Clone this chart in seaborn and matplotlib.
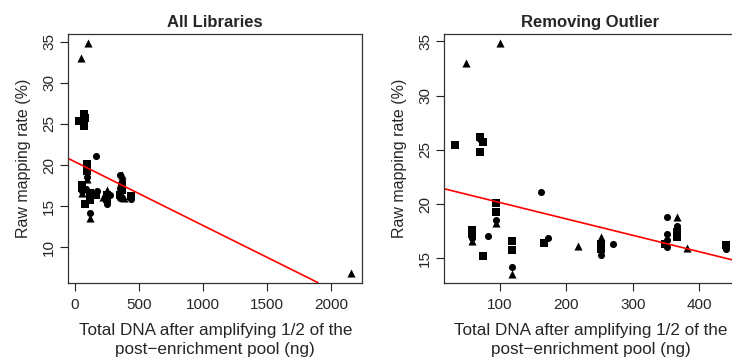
import numpy as np
import pandas as pd
import matplotlib
matplotlib.use("Agg")
import matplotlib.pyplot as plt
import seaborn as sns

# ---- data ----
sq_x = [33, 70, 75, 70, 95, 95, 58, 58, 75, 118, 118, 167, 252, 252, 348, 366, 366, 440]
sq_y = [25.4, 26.2, 25.7, 24.8, 20.1, 19.3, 17.6, 17.2, 15.2, 16.6, 15.8, 16.4, 16.3, 15.9, 16.3, 17.4, 17.0, 16.2]

ci_x = [162, 95, 83, 118, 173, 252, 271, 352, 352, 352, 352, 366, 440, 58, 71]
ci_y = [21.1, 18.5, 17.1, 14.2, 16.9, 15.3, 16.3, 18.8, 17.2, 16.7, 16.0, 18.0, 15.9, 16.9, 26.0]

tr_x = [49, 101, 118, 218, 252, 366, 381, 58, 95]
tr_y = [33.0, 34.8, 13.6, 16.1, 17.0, 18.8, 15.95, 16.6, 18.3]

outlier_x = [2160]
outlier_y = [6.8]

# fitted regression lines (intercept, slope)
fit_all = (20.40, -0.00775)
fit_rm = (21.66, -0.01513)

titles = ["All Libraries", "Removing Outlier"]
xlabel = "Total DNA after amplifying 1/2 of the\npost\u2212enrichment pool (ng)"
ylabel = "Raw mapping rate (%)"
xticks_all = [0, 500, 1000, 1500, 2000]
xticks_rm = [100, 200, 300, 400]
yticks_all = [10, 15, 20, 25, 30, 35]
yticks_rm = [15, 20, 25, 30, 35]

# ---- build tables ----
df_rm = pd.concat([
    pd.DataFrame({"x": sq_x, "y": sq_y, "shape": "square"}),
    pd.DataFrame({"x": ci_x, "y": ci_y, "shape": "circle"}),
    pd.DataFrame({"x": tr_x, "y": tr_y, "shape": "triangle"}),
], ignore_index=True)
df_all = pd.concat([
    df_rm,
    pd.DataFrame({"x": outlier_x, "y": outlier_y, "shape": "triangle"}),
], ignore_index=True)

sns.set_style("white")
plt.rcParams["font.family"] = ["Liberation Sans", "DejaVu Sans"]

fig = plt.figure(figsize=(7.32, 3.58), dpi=100)
ax1 = fig.add_axes([68.3 / 732, 1 - 282.7 / 358, 294 / 732, 248.4 / 358])
ax2 = fig.add_axes([444.3 / 732, 1 - 282.7 / 358, 292.4 / 732, 248.4 / 358])

marker_map = {"square": ("s", 30), "circle": ("o", 26), "triangle": ("^", 34)}


def draw(ax, df, fit, title, xticks, yticks):
    for shp, (mk, sz) in marker_map.items():
        sub = df[df["shape"] == shp]
        sns.scatterplot(data=sub, x="x", y="y", marker=mk, s=sz, color="black",
                        linewidth=0, ax=ax, legend=False)
    xmin, xmax = df["x"].min(), df["x"].max()
    ymin, ymax = df["y"].min(), df["y"].max()
    dx = (xmax - xmin) * 0.04
    dy = (ymax - ymin) * 0.04
    ax.set_xlim(xmin - dx, xmax + dx)
    ax.set_ylim(ymin - dy, ymax + dy)
    ax.axline((0, fit[0]), slope=fit[1], color="red", lw=1.2)
    ax.set_xticks(xticks)
    ax.set_yticks(yticks)
    ax.tick_params(axis="both", direction="out", length=5.8, width=0.8, color="#222222",
                   labelsize=11, bottom=True, left=True)
    ax.tick_params(axis="x", pad=5.5)
    ax.tick_params(axis="y", pad=3)
    for lab in ax.get_yticklabels():
        lab.set_rotation(90)
        lab.set_va("center")
    for sp in ax.spines.values():
        sp.set_color("#333333")
        sp.set_linewidth(0.9)
    ax.set_title(title, fontsize=12, fontweight="bold", pad=5)
    ax.set_xlabel(xlabel, fontsize=12.3, labelpad=7.5, linespacing=1.35)
    ax.set_ylabel(ylabel, fontsize=11.5, labelpad=8)


draw(ax1, df_all, fit_all, titles[0], xticks_all, yticks_all)
draw(ax2, df_rm, fit_rm, titles[1], xticks_rm, yticks_rm)

fig.savefig("out.png", dpi=100)
